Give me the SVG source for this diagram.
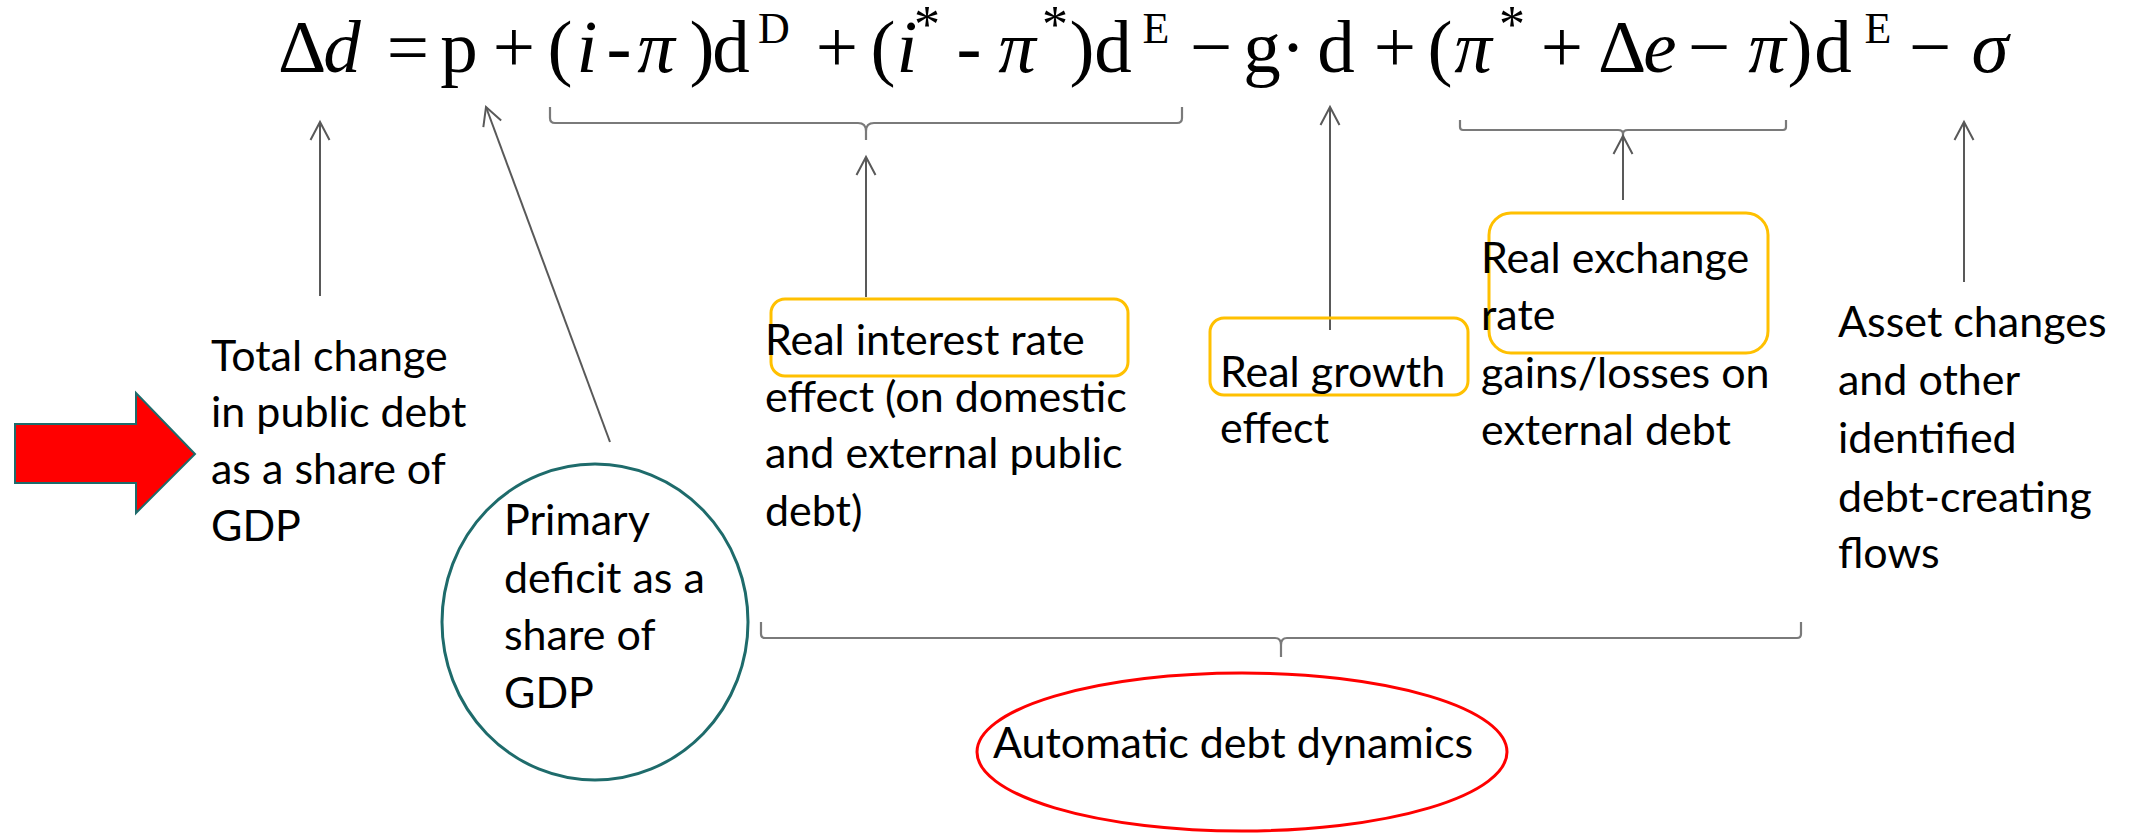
<svg xmlns="http://www.w3.org/2000/svg" width="2131" height="833" viewBox="0 0 2131 833">
<style>
.eq{font-family:"Liberation Serif","Times New Roman",serif;font-size:75px;text-anchor:middle;fill:#000}
.it{font-style:italic}
.sup{font-size:44px}
.star{font-size:52px}
.lbl{font-family:Lato,"Liberation Sans",sans-serif;font-size:43px;fill:#000}
.conn{stroke:#595959;stroke-width:2;fill:none}
.brace{stroke:#7a7a7a;stroke-width:2.2;fill:none}
.ybox{fill:none;stroke:#FFC000;stroke-width:3}
</style>
<defs>
<marker id="open" viewBox="-22 -12 26 24" refX="0" refY="0" markerWidth="26" markerHeight="24" markerUnits="userSpaceOnUse" orient="auto">
<path d="M-18,-9.5 L0,0 L-18,9.5" fill="none" stroke="#595959" stroke-width="2"/>
</marker>
</defs>
<rect width="2131" height="833" fill="#fff"/>
<g id="equation">
<text class="eq" y="72">
<tspan x="302">Δ</tspan><tspan x="342" class="it">d</tspan><tspan x="408">=</tspan><tspan x="459">p</tspan><tspan x="514">+</tspan><tspan x="560">(</tspan><tspan x="587" class="it">i</tspan><tspan x="619">-</tspan><tspan x="656" class="it">π</tspan><tspan x="702">)</tspan><tspan x="731">d</tspan><tspan x="837">+</tspan><tspan x="883">(</tspan><tspan x="907" class="it">i</tspan><tspan x="969">-</tspan><tspan x="1017" class="it">π</tspan><tspan x="1082">)</tspan><tspan x="1113">d</tspan><tspan x="1211">−</tspan><tspan x="1262">g</tspan><tspan x="1293">·</tspan><tspan x="1336">d</tspan><tspan x="1395">+</tspan><tspan x="1440">(</tspan><tspan x="1473" class="it">π</tspan><tspan x="1562">+</tspan><tspan x="1622">Δ</tspan><tspan x="1660" class="it">e</tspan><tspan x="1709">−</tspan><tspan x="1767" class="it">π</tspan><tspan x="1800">)</tspan><tspan x="1833">d</tspan><tspan x="1930">−</tspan><tspan x="1990" class="it">σ</tspan>
</text>
<text class="eq sup" y="43"><tspan x="774">D</tspan><tspan x="1156">E</tspan><tspan x="1878">E</tspan></text>
<text class="eq star" y="42"><tspan x="927">*</tspan><tspan x="1055">*</tspan><tspan x="1512">*</tspan></text>
</g>
<g id="connectors">
<path class="brace" d="M550,107 L550,118 Q550,123 555,123 L858,123 Q866,123 866,131 L866,140 M866,131 Q866,123 874,123 L1177,123 Q1182,123 1182,118 L1182,107"/>
<path class="brace" d="M1460,120 L1460,127 Q1460,130 1463,130 L1618,130 Q1623,130 1623,134 L1623,137 M1623,134 Q1623,130 1628,130 L1783,130 Q1786,130 1786,127 L1786,120"/>
<path class="brace" d="M761,622 L761,634 Q761,638 765,638 L1275,638 Q1281,638 1281,645 L1281,657 M1281,645 Q1281,638 1287,638 L1797,638 Q1801,638 1801,634 L1801,622"/>
<path class="conn" d="M320,296 L320,122" marker-end="url(#open)"/>
<path class="conn" d="M610,442 L486,107" marker-end="url(#open)"/>
<path class="conn" d="M866,297 L866,157" marker-end="url(#open)"/>
<path class="conn" d="M1330,330 L1330,107" marker-end="url(#open)"/>
<path class="conn" d="M1623,200 L1623,136" marker-end="url(#open)"/>
<path class="conn" d="M1964,282 L1964,122" marker-end="url(#open)"/>
</g>
<g id="red-arrow">
<polygon points="15,424 136,424 136,393 195,454 136,513 136,483 15,483" fill="#FF0000" stroke="#1E6B6B" stroke-width="2"/>
</g>
<g id="total-change">
<text class="lbl"><tspan x="211" y="371">Total change</tspan><tspan x="211" y="427">in public debt</tspan><tspan x="211" y="484">as a share of</tspan><tspan x="211" y="541">GDP</tspan></text>
</g>
<g id="primary-deficit">
<ellipse cx="595" cy="622" rx="153" ry="158" fill="none" stroke="#1E6B6B" stroke-width="3"/>
<text class="lbl"><tspan x="504" y="535">Primary</tspan><tspan x="504" y="593">deficit as a</tspan><tspan x="504" y="650">share of</tspan><tspan x="504" y="708">GDP</tspan></text>
</g>
<g id="interest-effect">
<rect class="ybox" x="771" y="299" width="357" height="77" rx="14"/>
<text class="lbl"><tspan x="765" y="355">Real interest rate</tspan><tspan x="765" y="412">effect (on domestic</tspan><tspan x="765" y="468">and external public</tspan><tspan x="765" y="526">debt)</tspan></text>
</g>
<g id="growth-effect">
<rect class="ybox" x="1210" y="318" width="258" height="77" rx="14"/>
<text class="lbl"><tspan x="1220" y="387">Real growth</tspan><tspan x="1220" y="443">effect</tspan></text>
</g>
<g id="exchange-effect">
<rect class="ybox" x="1489" y="213" width="279" height="140" rx="22"/>
<text class="lbl"><tspan x="1481" y="273">Real exchange</tspan><tspan x="1481" y="330">rate</tspan><tspan x="1481" y="388">gains/losses on</tspan><tspan x="1481" y="445">external debt</tspan></text>
</g>
<g id="asset-changes">
<text class="lbl"><tspan x="1838" y="337">Asset changes</tspan><tspan x="1838" y="395">and other</tspan><tspan x="1838" y="453">identified</tspan><tspan x="1838" y="512">debt-creating</tspan><tspan x="1838" y="568">flows</tspan></text>
</g>
<g id="automatic-dynamics">
<ellipse cx="1242" cy="752" rx="265" ry="79" fill="none" stroke="#FF0000" stroke-width="3"/>
<text class="lbl" x="993" y="758">Automatic debt dynamics</text>
</g>
</svg>
